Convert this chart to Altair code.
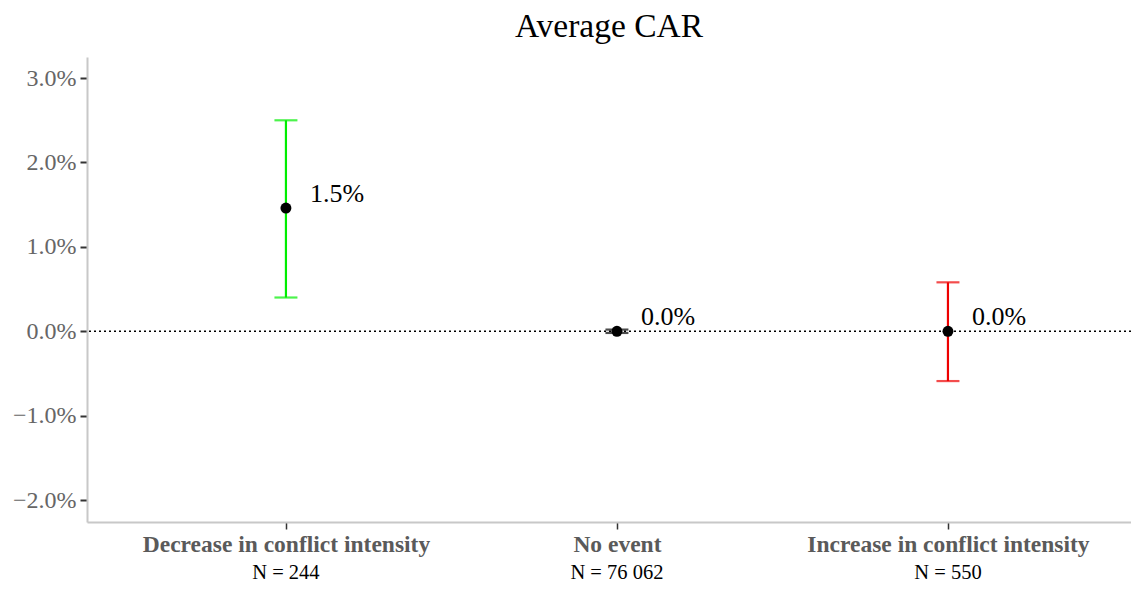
import json
import altair as alt
import pandas as pd

categories = ["Decrease in conflict intensity", "No event", "Increase in conflict intensity"]
n_labels = ["N = 244", "N = 76 062", "N = 550"]
means = [1.46, 0.0, 0.0]
lower = [0.40, -0.02, -0.59]
upper = [2.50, 0.02, 0.58]
value_labels = ["1.5%", "0.0%", "0.0%"]
colors = ["#00ee00", "#000000", "#ee0000"]

df = pd.DataFrame({
    "idx": list(range(len(categories))),
    "cat": categories,
    "n": n_labels,
    "mean": [m / 100 for m in means],
    "lo": [v / 100 for v in lower],
    "hi": [v / 100 for v in upper],
    "lab": value_labels,
})

W, H = 1044, 465
FONT = "Liberation Serif"

xscale = alt.Scale(domain=[-0.601, 2.553], nice=False, zero=False)
x = alt.X("idx:Q", scale=xscale,
          axis=alt.Axis(title=None, labelAngle=0, labelFontWeight="bold", labelLimit=0,
                        values=[0, 1, 2],
                        labelExpr=json.dumps(categories) + "[datum.value]",
                        labelColor="#5a5a5a", labelFontSize=23.5, labelFont=FONT,
                        labelPadding=3, tickColor="#333333", tickSize=7, tickWidth=1.5,
                        domainColor="#c8c8c8", domainWidth=2, grid=False))
yscale = alt.Scale(domain=[-0.0226, 0.0325], nice=False, zero=False)
y = alt.Y("mean:Q", scale=yscale,
          axis=alt.Axis(title=None, format=".1%", values=[-0.02, -0.01, 0, 0.01, 0.02, 0.03],
                        labelColor="#666666", labelFontSize=24, labelFont=FONT,
                        labelPadding=4, tickColor="#333333", tickSize=7, tickWidth=2,
                        domainColor="#c8c8c8", domainWidth=2, grid=False))

color = alt.Color("cat:N", sort=categories,
                  scale=alt.Scale(domain=categories, range=colors), legend=None)

base = alt.Chart(df)

zero = alt.Chart(pd.DataFrame({"z": [0.0]})).mark_rule(
    color="black", strokeDash=[2, 3], strokeWidth=1.3
).encode(y=alt.Y("z:Q", scale=yscale))

rules = base.mark_rule(strokeWidth=2.2).encode(x=x, y=alt.Y("lo:Q", scale=yscale), y2="hi:Q", color=color)
cap_lo = base.mark_tick(orient="horizontal", size=23, thickness=2.2).encode(
    x=x, y=alt.Y("lo:Q", scale=yscale), color=color)
cap_hi = base.mark_tick(orient="horizontal", size=23, thickness=2.2).encode(
    x=x, y=alt.Y("hi:Q", scale=yscale), color=color)
pts = base.mark_circle(size=120, color="black", opacity=1).encode(x=x, y=y)
txt = base.mark_text(align="left", baseline="middle", dx=24, dy=-14, fontSize=26,
                     font=FONT, color="black").encode(
    x=x, y=alt.Y("mean:Q", scale=yscale), text="lab:N")
nl = base.mark_text(baseline="middle", fontSize=20.5, font=FONT, color="black").encode(
    x=x, y=alt.value(H + 51), text="n:N")

chart = alt.layer(zero, rules, cap_lo, cap_hi, pts, txt, nl).properties(
    width=W, height=H,
    title=alt.TitleParams("Average CAR", font=FONT, fontSize=33.5, fontWeight="normal",
                          color="black", anchor="middle", offset=13),
    autosize=alt.AutoSizeParams(type="none"),
    padding={"left": 79, "top": 49, "right": 0, "bottom": 62},
).configure_view(stroke=None)

chart.save("out.html", embed_options={"renderer": "svg", "actions": False})
